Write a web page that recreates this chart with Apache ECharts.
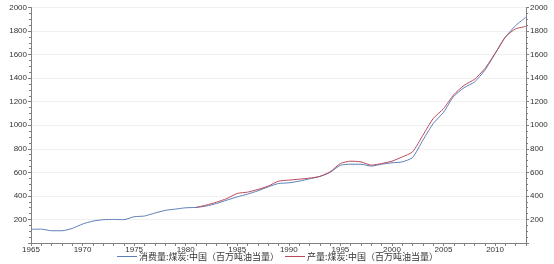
<!DOCTYPE html>
<html><head><meta charset="utf-8">
<script src="https://cdn.jsdelivr.net/npm/echarts@6/dist/echarts.min.js"></script>
<style>html,body{margin:0;padding:0;background:#fff}#c{width:554px;height:264px}</style>
</head><body><div id="c"></div>
<script>
var years = [];
for (var y = 1965; y <= 2013; y++) years.push(String(y));
var consumption = [116,118,104,104,124,161,186,198,200,198,223,229,254,277,288,299,302,314,336,364,392,415,443,477,505,511,525,545,565,600,660,669,669,653,669,681,689,726,873,1014,1110,1246,1319,1367,1466,1607,1748,1847,1918];
var production = [null,null,null,null,null,null,null,null,null,null,null,null,null,null,null,null,302,322,347,378,421,432,455,483,525,534,542,551,565,604,675,695,689,661,675,695,731,774,915,1057,1141,1260,1339,1390,1480,1610,1750,1819,1839];
var seriesNames = ['消费量:煤炭:中国（百万吨油当量）','产量:煤炭:中国（百万吨油当量）'];

var axisColor = '#808080';
var labelStyle = {fontFamily:'Liberation Sans', fontSize:8, color:'#333'};
function yAx(pos){
  return {type:'value', position:pos, min:0, max:2000, interval:200,
    axisLine:{show:true, lineStyle:{color:axisColor}},
    axisTick:{show:true, length:3, lineStyle:{color:axisColor}},
    minorTick:{show:true, splitNumber:4, length:2, lineStyle:{color:axisColor}},
    axisLabel:Object.assign({showMinLabel:false, margin:4, formatter:function(v){return String(v);}}, labelStyle),
    splitLine:{show:pos==='left', lineStyle:{color:'#f0f0f0', width:1}}};
}
var chart = echarts.init(document.getElementById('c'));
chart.setOption({
  animation:false,
  grid:{left:31, right:28, top:7.5, bottom:21},
  legend:{top:252, left:117, itemWidth:20, itemHeight:8, itemGap:6, padding:0,
    textStyle:{fontFamily:'Noto Sans CJK SC', fontSize:9, color:'#333', padding:[0,0,0,-3]},
    data:[{name:seriesNames[0], icon:'path://M0,4L20,4L20,5L0,5Z'},{name:seriesNames[1], icon:'path://M0,4L20,4L20,5L0,5Z'}]},
  xAxis:{type:'category', data:years, boundaryGap:false,
    axisLine:{lineStyle:{color:axisColor}},
    axisTick:{show:true, interval:0, length:3, lineStyle:{color:axisColor}},
    axisLabel:Object.assign({interval:function(i,v){return (+v)%5===0;}, margin:3}, labelStyle),
    splitLine:{show:false}},
  yAxis:[yAx('left'), yAx('right')],
  series:[
    {name:seriesNames[0], type:'line', data:consumption, smooth:0.2, showSymbol:false, symbol:'none',
     lineStyle:{color:'#5b7fb8', width:1}, itemStyle:{color:'#5b7fb8'}},
    {name:seriesNames[1], type:'line', data:production, smooth:0.2, showSymbol:false, symbol:'none',
     lineStyle:{color:'#b84a5c', width:1}, itemStyle:{color:'#b84a5c'}}
  ]
});
</script></body></html>
